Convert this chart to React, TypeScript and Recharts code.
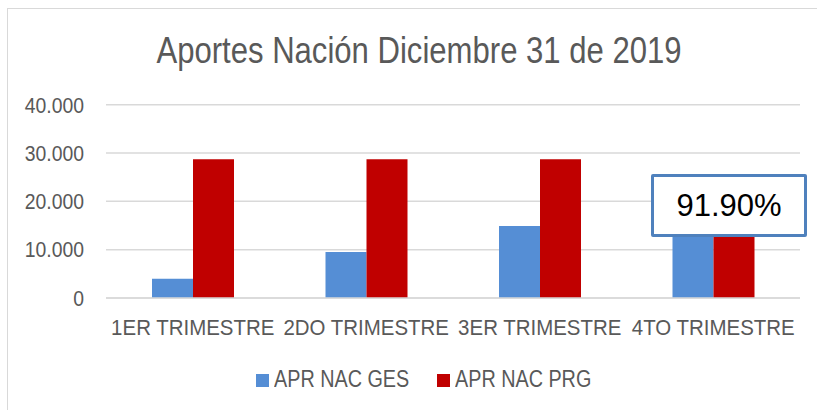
import React from "react";
import { BarChart, Bar, XAxis, YAxis, CartesianGrid, Legend } from "recharts";

const trimestres = ["1ER TRIMESTRE", "2DO TRIMESTRE", "3ER TRIMESTRE", "4TO TRIMESTRE"];
const aprNacGes = [4000, 9500, 14900, 22000];
const aprNacPrg = [28700, 28700, 28700, 24000];
const yTicks = [0, 10000, 20000, 30000, 40000];

const data = trimestres.map((name, i) => ({
  name,
  ges: aprNacGes[i],
  prg: aprNacPrg[i],
}));

// no narrow font installed, so squeeze Liberation Sans by hand
const FONT = '"Liberation Sans", Arial, sans-serif';
const TEXT = "#595959";

const fmt = (v: number) => (v === 0 ? "0" : v.toLocaleString("de-DE"));

const squeeze = (x: number, s: number) => `translate(${x} 0) scale(${s} 1) translate(${-x} 0)`;

const XTick = (props: any) => {
  const { x, y, payload } = props;
  return (
    <text
      x={x}
      y={y}
      dy="0.71em"
      textAnchor="middle"
      fill={TEXT}
      fontSize={22}
      fontFamily={FONT}
      transform={squeeze(x, 0.93)}
    >
      {payload.value}
    </text>
  );
};

const YTick = (props: any) => {
  const { x, y, payload } = props;
  return (
    <text
      x={x}
      y={y}
      dy="0.355em"
      textAnchor="end"
      fill={TEXT}
      fontSize={22}
      fontFamily={FONT}
      transform={squeeze(x, 0.88)}
    >
      {fmt(payload.value)}
    </text>
  );
};

const labelWidths = [133, 135];

const MyLegend = (props: any) => {
  const { payload } = props;
  return (
    <div style={{ display: "flex", justifyContent: "center", gap: 30, fontFamily: FONT }}>
      {payload?.map((p: any, i: number) => (
        <div key={p.value} style={{ display: "flex", alignItems: "center" }}>
          <span style={{ width: 13, height: 13, background: p.color, marginRight: 5 }} />
          <span style={{ width: labelWidths[i], whiteSpace: "nowrap", lineHeight: "26px" }}>
            <span
              style={{
                display: "inline-block",
                fontSize: 23,
                color: TEXT,
                transform: "scaleX(0.86)",
                transformOrigin: "left center",
              }}
            >
              {p.value}
            </span>
          </span>
        </div>
      ))}
    </div>
  );
};

export default function App() {
  return (
    <div
      style={{
        position: "fixed",
        left: 0,
        top: 0,
        width: 817,
        height: 410,
        overflow: "hidden",
        background: "#fff",
      }}
    >
      <div
        style={{
          position: "absolute",
          left: 7,
          top: 8,
          width: 840,
          height: 440,
          border: "1px solid #d9d9d9",
        }}
      />
      <div
        style={{
          position: "absolute",
          left: 0,
          top: 32,
          width: 838,
          textAlign: "center",
          fontFamily: FONT,
          fontSize: 37,
          lineHeight: 1,
          color: TEXT,
          transform: "scaleX(0.84)",
          whiteSpace: "nowrap",
        }}
      >
        Aportes Nación Diciembre 31 de 2019
      </div>
      <BarChart
        width={817}
        height={410}
        data={data}
        margin={{ top: 104.7, right: 17, bottom: 72, left: 0 }}
        barGap={0}
        barSize={41}
        style={{ position: "absolute", left: 0, top: 0 }}
      >
        <CartesianGrid vertical={false} stroke="#d9d9d9" strokeWidth={1.5} />
        <XAxis
          dataKey="name"
          axisLine={{ stroke: "#d9d9d9", strokeWidth: 1.5 }}
          tickLine={false}
          tickSize={0}
          tickMargin={21}
          height={40}
          interval={0}
          tick={<XTick />}
        />
        <YAxis
          width={106}
          domain={[0, 40000]}
          ticks={yTicks}
          axisLine={false}
          tickLine={false}
          tickSize={0}
          tickMargin={22}
          tick={<YTick />}
        />
        <Legend
          layout="horizontal"
          verticalAlign="middle"
          align="center"
          content={<MyLegend />}
          wrapperStyle={{ top: 366, left: 14, width: 817, height: 26 }}
        />
        <Bar dataKey="ges" name="APR NAC GES" fill="#558ed5" isAnimationActive={false} />
        <Bar dataKey="prg" name="APR NAC PRG" fill="#c00000" isAnimationActive={false} />
      </BarChart>
      <div
        style={{
          position: "absolute",
          left: 651,
          top: 174,
          width: 156,
          height: 63,
          boxSizing: "border-box",
          border: "3.5px solid #4f81bd",
          borderRadius: 2,
          background: "#fff",
          display: "flex",
          alignItems: "center",
          justifyContent: "center",
          fontFamily: FONT,
          fontSize: 31,
          color: "#000",
        }}
      >
        91.90%
      </div>
    </div>
  );
}
